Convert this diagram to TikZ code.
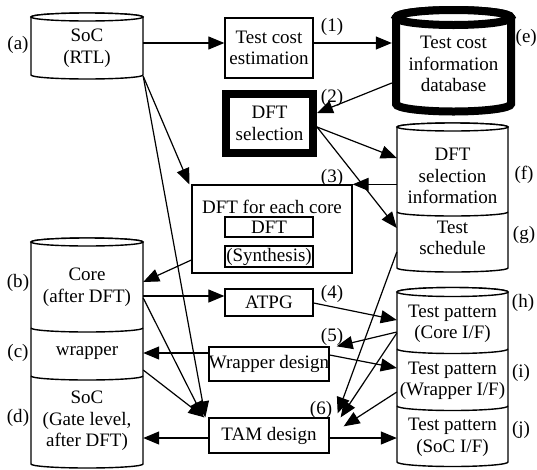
\documentclass[tikz,border=0pt]{standalone}
\usepackage{fontspec}
\setmainfont{Liberation Serif}
\newfontfamily\timesfont{Liberation Serif}
\usetikzlibrary{arrows.meta,calc}
\newcommand\drawcyl[6]{% #1 x1, #2 x2, #3 ytop, #4 ybot, #5 ry, #6 style
  \pgfmathsetmacro\cylrx{(#2-#1)/2}
  \draw[#6] (#1,#3) -- (#1,#4) arc[start angle=180,end angle=360,x radius=\cylrx pt,y radius=#5pt]
     -- (#2,#3) arc[start angle=0,end angle=180,x radius=\cylrx pt,y radius=#5pt] -- cycle;
  \draw[#6] (#1+\cylrx,#3) ellipse[x radius=\cylrx pt, y radius=#5pt];
}
\newcommand\cyldiv[4]{% x1 x2 y ry
  \pgfmathsetmacro\cylrx{(#2-#1)/2}
  \draw[cyl] (#1,#3) arc[start angle=180,end angle=360,x radius=\cylrx pt,y radius=#4pt];
}
\begin{document}
\begin{tikzpicture}[x=1pt,y=-1pt,
  font=\timesfont\fontsize{19}{21.5}\selectfont,
  cyl/.style={line width=1.4pt, fill=white},
  thickcyl/.style={line width=8pt, fill=white},
  box/.style={draw, line width=1.3pt, inner sep=0pt, align=center},
  sect/.style={inner sep=0pt, align=center},
  lbl/.style={inner sep=0pt},
  arr/.style={line width=1.2pt, -{Triangle[length=16pt,width=13pt]}}]
\useasboundingbox (0,0) rectangle (537,469);
% cylinders
\drawcyl{31}{143}{17}{75}{4}{cyl}
\drawcyl{396}{511}{17.5}{104}{7.5}{thickcyl}
\drawcyl{397}{508}{127}{268}{4}{cyl}
\cyldiv{397}{508}{212}{4}
\drawcyl{31}{143}{242}{464}{4}{cyl}
\cyldiv{31}{143}{328}{4}
\cyldiv{31}{143}{376}{4}
\drawcyl{397}{508}{292}{462}{4.5}{cyl}
\cyldiv{397}{508}{349}{4.5}
\cyldiv{397}{508}{406}{4.5}
% section nodes (cylinder contents)
\node[sect, minimum width=112pt, minimum height=56pt] (a) at (87,48) {SoC\\(RTL)};
\node[sect, minimum width=123pt, minimum height=90pt] (e) at (453.5,64) {Test cost\\information\\database};
\node[sect, minimum width=111pt, minimum height=70pt] (f) at (452.5,176) {DFT\\selection\\information};
\node[sect, minimum width=111pt, minimum height=50pt] (g) at (452.5,238) {Test\\schedule};
\node[sect, minimum width=112pt, minimum height=60pt] (b) at (87,287) {Core\\(after DFT)};
\node[sect, minimum width=112pt, minimum height=40pt] (c) at (87,353) {wrapper};
\node[sect, minimum width=112pt, minimum height=80pt] (d) at (87,421) {SoC\\(Gate level,\\after DFT)};
\node[sect, minimum width=111pt, minimum height=50pt] (h) at (452.5,324) {Test pattern\\(Core I/F)};
\node[sect, minimum width=111pt, minimum height=50pt] (i) at (452.5,381) {Test pattern\\(Wrapper I/F)};
\node[sect, minimum width=111pt, minimum height=50pt] (j) at (452.5,437.5) {Test pattern\\(SoC I/F)};
% boxes
\node[box, minimum width=88pt, minimum height=60pt] (tce) at (269,48) {Test cost\\estimation};
\node[box, line width=8pt, minimum width=87pt, minimum height=59pt] (dftsel) at (269.5,123.5) {DFT\\selection};
\node[box, minimum width=160pt, minimum height=88pt] (dfteach) at (272,229) {};
\node[sect] (dfteachtitle) at (272,207) {DFT for each core};
\node[box, minimum width=88pt, minimum height=20pt] (dft) at (269,227) {DFT};
\node[box, minimum width=88pt, minimum height=21pt] (synth) at (269,256.5) {(Synthesis)};
\node[box, minimum width=88pt, minimum height=27pt] (atpg) at (269,302.5) {ATPG};
\node[box, minimum width=120pt, minimum height=34pt] (wd) at (269,364) {Wrapper design};
\node[box, minimum width=120pt, minimum height=35pt] (tam) at (269,435.5) {TAM design};
% side labels
\node[lbl] (la) at (18,45) {(a)};
\node[lbl] (lb) at (18,283) {(b)};
\node[lbl] (lc) at (18,353) {(c)};
\node[lbl] (ld) at (18,418) {(d)};
\node[lbl, anchor=east] (le) at (537,38) {(e)};
\node[lbl] (lf) at (524,175) {(f)};
\node[lbl] (lg) at (524,235) {(g)};
\node[lbl] (lh) at (523,303) {(h)};
\node[lbl] (li) at (521,373) {(i)};
\node[lbl] (lj) at (521,430) {(j)};
% step numbers
\node[lbl] (n1) at (332,27) {(1)};
\node[lbl] (n2) at (332,98) {(2)};
\node[lbl] (n3) at (332,178) {(3)};
\node[lbl] (n4) at (332,294) {(4)};
\node[lbl] (n5) at (332,337) {(5)};
\node[lbl] (n6) at (321,410) {(6)};
% connectors
\draw[arr] ([yshift=5pt]a.east) -- ([yshift=5pt]a.east -| tce.west);
\draw[arr] ([yshift=5pt]tce.east) -- ([yshift=5pt]tce.east -| e.west);
\draw[arr] ([yshift=-19pt]e.west) -- ([yshift=10.5pt]dftsel.east);
\draw[arr] ([yshift=-3.5pt]dftsel.east) -- ([yshift=18pt]f.west);
\draw[arr] ([yshift=-3.5pt]dftsel.east) -- ([yshift=10pt]g.west);
\draw[arr] (f.west |- dfteach.north east) -- (dfteach.north east);
\draw[arr] (a.south east) -- ([xshift=-2pt]dfteach.north west);
\draw[arr] (a.south east) -- ([xshift=-3pt]tam.north west);
\draw[arr] ([yshift=-31pt]dfteach.west) -- ([yshift=5pt]b.east);
\draw[arr] ([yshift=-9pt]b.east) -- ([yshift=-9pt]b.east -| atpg.west);
\draw[arr] ([yshift=-11pt]b.east) -- ([xshift=-5pt]tam.north west);
\draw[arr] ([yshift=-0.5pt]atpg.east) -- ([yshift=4pt]h.west);
\draw[arr] ([yshift=-8pt]h.west) -- ([xshift=7pt]wd.north east);
\draw[arr] (c.east -| wd.west) -- (c.east);
\draw[arr] ([yshift=9pt]wd.east) -- ([yshift=13pt]i.west);
\draw[arr] ([yshift=-17pt]c.east) -- ([xshift=-4pt]tam.north west);
\draw[arr] ([yshift=-14pt]g.west) -- ([xshift=8pt,yshift=4pt]tam.north east);
\draw[arr] ([yshift=-9pt]h.west) -- ([xshift=11pt]tam.north east);
\draw[arr] ([yshift=-11pt]i.west) -- ([xshift=14pt,yshift=-9pt]tam.north east);
\draw[arr] ([yshift=-2.5pt]tam.west) -- ([yshift=-2.5pt]tam.west -| d.east);
\draw[arr] ([yshift=-2.5pt]tam.east) -- ([yshift=-2.5pt]tam.east -| j.west);
\end{tikzpicture}
\end{document}
